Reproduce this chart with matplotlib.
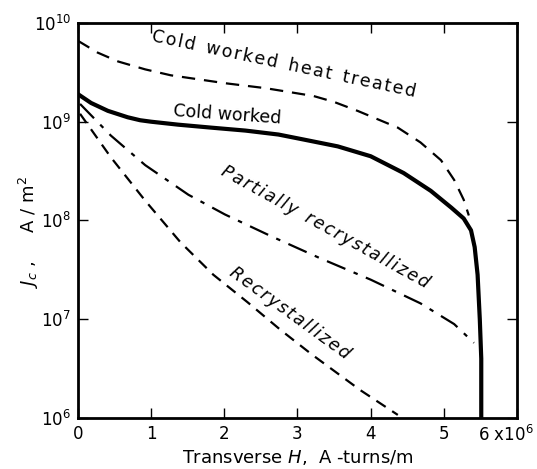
import numpy as np
import matplotlib
matplotlib.use("Agg")
import matplotlib.pyplot as plt
from matplotlib.ticker import FixedLocator, NullLocator
from matplotlib.transforms import ScaledTranslation

# Data (x in 10^6 A-turns/m, y = log10 Jc in A/m^2)
x_chht = [0.0, 0.27, 0.55, 0.92, 1.27, 1.64, 2.01, 2.56, 2.81, 3.22, 3.5, 3.82, 4.37, 4.68, 4.96, 5.14, 5.27, 5.34]
y_chht = [9.82, 9.70, 9.61, 9.53, 9.47, 9.43, 9.39, 9.34, 9.31, 9.26, 9.20, 9.11, 8.94, 8.79, 8.61, 8.41, 8.21, 8.05]

x_cw = [0.0, 0.18, 0.41, 0.68, 0.85, 1.0, 1.37, 1.82, 2.29, 2.74, 3.08, 3.55, 4.0, 4.45, 4.82, 5.10, 5.27,
        5.37, 5.42, 5.46, 5.49, 5.51, 5.51]
y_cw = [9.28, 9.19, 9.11, 9.045, 9.015, 9.0, 8.97, 8.94, 8.91, 8.87, 8.82, 8.75, 8.65, 8.48, 8.30, 8.13, 8.02,
        7.90, 7.73, 7.45, 7.0, 6.6, 6.0]

x_pr = [0.03, 0.45, 0.92, 1.51, 2.01, 2.64, 3.3, 4.0, 4.68, 5.14, 5.41]
y_pr = [9.18, 8.86, 8.56, 8.26, 8.06, 7.84, 7.62, 7.40, 7.16, 6.95, 6.76]

x_rc = [0.03, 0.45, 0.92, 1.40, 1.85, 2.32, 2.77, 3.2, 3.86, 4.37]
y_rc = [9.08, 8.64, 8.20, 7.78, 7.45, 7.17, 6.89, 6.64, 6.28, 6.03]

xticks = [0, 1, 2, 3, 4, 5, 6]
xticklabels = ["0", "1", "2", "3", "4", "5", r"6 x10$^6$"]
yticks = [1e6, 1e7, 1e8, 1e9, 1e10]
yticklabels = [r"10$^6$", r"10$^7$", r"10$^8$", r"10$^9$", r"10$^{10}$"]

fig = plt.figure(figsize=(5.37, 4.69), dpi=100)
ax = fig.add_axes([0.145, 0.109, 0.818, 0.842])

def p(ys):
    return [10 ** v for v in ys]

ax.plot(x_chht, p(y_chht), color="black", lw=1.6, dashes=(6, 4))
ax.plot(x_cw, p(y_cw), color="black", lw=3.0, solid_capstyle="butt", solid_joinstyle="round")
ax.plot(x_pr, p(y_pr), color="black", lw=1.6, dashes=(9, 4, 2, 4))
ax.plot(x_rc, p(y_rc), color="black", lw=1.6, dashes=(5, 3.5))

ax.set_yscale("log")
ax.set_xlim(0, 6)
ax.set_ylim(1e6, 1e10)
ax.yaxis.set_major_locator(FixedLocator(yticks))
ax.yaxis.set_minor_locator(NullLocator())
ax.set_yticks(yticks)
ax.set_yticklabels(yticklabels, fontsize=12)
ax.set_xticks(xticks)
ax.set_xticklabels(xticklabels, fontsize=12)

ax.tick_params(direction="in", length=7, width=1, top=True, right=True, pad=5)
for s in ax.spines.values():
    s.set_linewidth(2)

last = ax.get_xticklabels()[-1]
last.set_transform(last.get_transform() + ScaledTranslation(-0.11, 0, fig.dpi_scale_trans))

ax.set_xlabel(r"Transverse $H$,  A -turns/m", fontsize=13, labelpad=2)
ax.set_ylabel(r"$J_c$ ,     A / m$^2$", fontsize=13, va="center")
ax.yaxis.set_label_coords(-0.112, 0.47)

def sp(s):
    return "\u200a".join(s).replace("\u200a \u200a", "  ")

ax.text(2.81, 10 ** 9.58, sp("Cold worked heat treated"), rotation=-12, fontsize=12.5,
        ha="center", va="center")
ax.text(2.04, 10 ** 9.07, "Cold worked", rotation=-4, fontsize=12.5,
        ha="center", va="center")
ax.text(3.38, 10 ** 7.93, sp("Partially recrystallized"), rotation=-29, fontsize=12.5,
        ha="center", va="center", style="italic")
ax.text(2.9, 10 ** 7.06, sp("Recrystallized"), rotation=-36, fontsize=12.5,
        ha="center", va="center", style="italic")

fig.savefig("out.png", dpi=100)
